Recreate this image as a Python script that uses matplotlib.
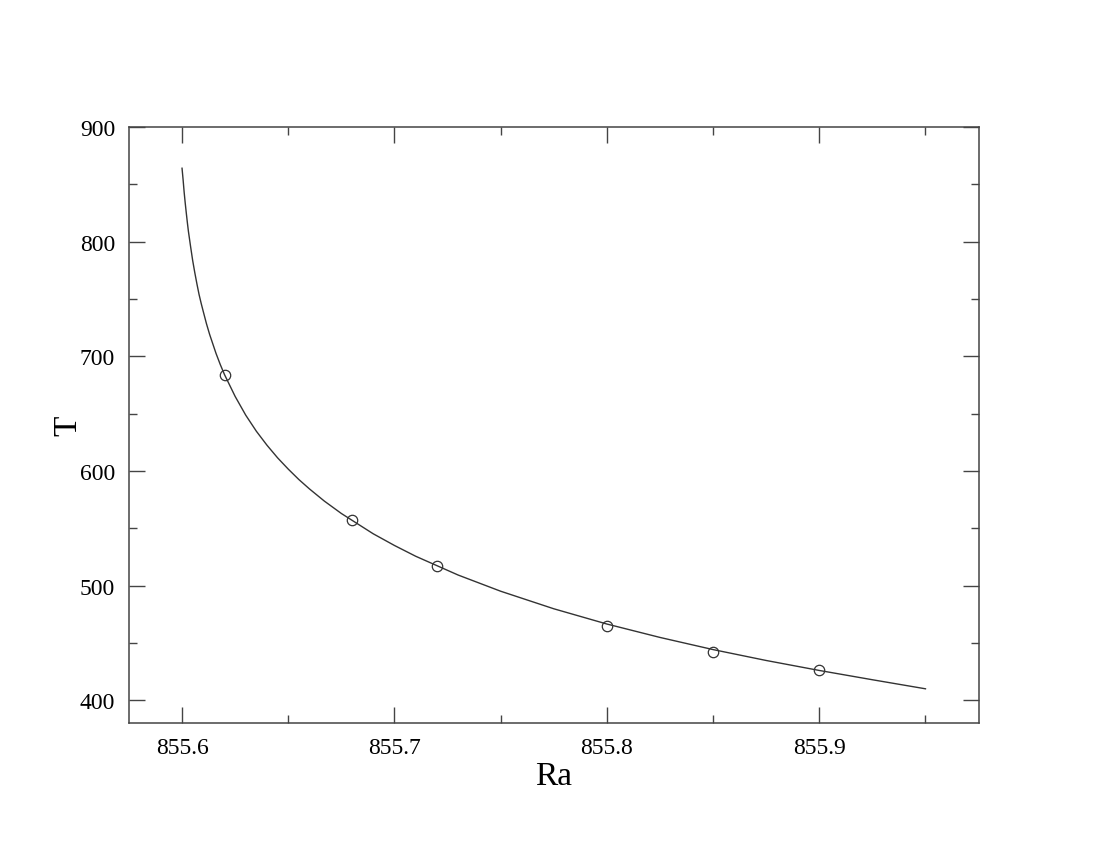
import matplotlib
matplotlib.use('Agg')
import matplotlib.pyplot as plt
from matplotlib.ticker import MultipleLocator, FormatStrFormatter

# curve
ra_curve = [855.600, 855.6005, 855.601, 855.6015, 855.602, 855.6025, 855.603,
            855.604, 855.605, 855.606, 855.607, 855.608, 855.609, 855.610,
            855.6115, 855.613, 855.616, 855.618, 855.620, 855.625, 855.630,
            855.635, 855.640, 855.645, 855.650, 855.655, 855.660, 855.667,
            855.675, 855.690, 855.700, 855.710, 855.730, 855.750, 855.775,
            855.800, 855.825, 855.850, 855.875, 855.900, 855.925, 855.950]
t_curve = [864, 854, 843, 833.6, 825, 816.7, 809, 796, 783.6, 773, 763.2,
           754, 746.2, 739, 728.4, 719, 702.5, 692.8, 684, 665, 648.6, 634.6,
           622.4, 611.4, 601.6, 592.5, 584.3, 573.7, 562.9, 545.2, 535.0,
           525.6, 509.2, 495.1, 479.8, 466.5, 454.8, 444.2, 434.7, 426.0,
           417.9, 410.0]

# measured points
ra_pts = [855.62, 855.68, 855.72, 855.80, 855.85, 855.90]
t_pts = [684, 557, 517, 465, 442.5, 426]

plt.rcParams['font.family'] = ['Liberation Serif', 'DejaVu Serif']

fig = plt.figure(figsize=(11.02, 8.53), dpi=100)
ax = fig.add_axes([0.117, 0.151, 0.771, 0.699])

ax.plot(ra_curve, t_curve, color='#333333', lw=1.0)
ax.plot(ra_pts, t_pts, 'o', mfc='none', mec='#333333', ms=7.5, mew=0.9)

ax.set_xlim(855.575, 855.975)
ax.set_ylim(380, 900)
ax.xaxis.set_major_locator(MultipleLocator(0.1))
ax.xaxis.set_minor_locator(MultipleLocator(0.05))
ax.yaxis.set_major_locator(MultipleLocator(100))
ax.yaxis.set_minor_locator(MultipleLocator(50))
ax.xaxis.set_major_formatter(FormatStrFormatter('%.1f'))

ax.tick_params(which='both', direction='in', top=True, right=True,
               color='#444444', width=1.0, labelsize=17)
ax.tick_params(which='major', length=11.5, pad=10)
ax.tick_params(which='minor', length=5.8)
for sp in ax.spines.values():
    sp.set_color('#444444')
    sp.set_linewidth(1.1)

ax.set_xlabel('Ra', fontsize=24, labelpad=2)
ax.set_ylabel('T', fontsize=24, labelpad=-3)

fig.savefig('out.png', dpi=100)
